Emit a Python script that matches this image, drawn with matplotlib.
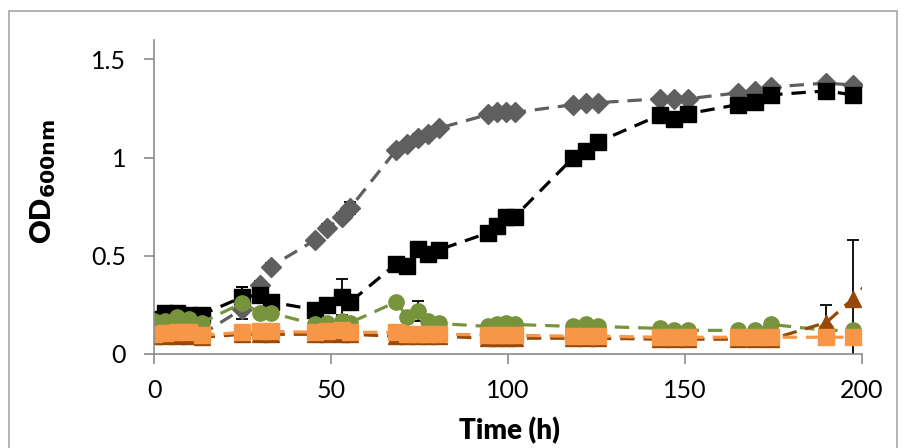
import numpy as np
import matplotlib
matplotlib.use('Agg')
import matplotlib.pyplot as plt
from matplotlib.patches import Rectangle

# sampling times (h)
time_h = [0, 3, 6.5, 10, 13.5, 25, 30, 33, 45.5, 49, 53, 55.5,
          68.5, 71.5, 74.5, 77.5, 80.5, 94.5, 97, 99.5, 102,
          118.5, 122, 125.5, 143, 147, 151, 165, 170, 174.5, 190, 197.5]

# OD600 per strain
od_gray = [0.12, 0.12, 0.12, 0.11, 0.10, 0.23, 0.35, 0.445, 0.58, 0.64, 0.70, 0.745,
           1.04, 1.07, 1.10, 1.12, 1.15, 1.22, 1.23, 1.23, 1.23,
           1.27, 1.28, 1.28, 1.30, 1.30, 1.30, 1.33, 1.34, 1.36, 1.38, 1.37]
err_gray = [0.01, 0.01, 0.01, 0.01, 0.01, 0.01, 0.02, 0.02, 0.01, 0.02, 0.02, 0.03,
            0.01, 0.01, 0.02, 0.01, 0.01, 0.01, 0.01, 0.01, 0.01,
            0.01, 0.01, 0.01, 0.01, 0.01, 0.01, 0.01, 0.01, 0.01, 0.01, 0.01]

od_black = [0.18, 0.21, 0.21, 0.20, 0.20, 0.29, 0.30, 0.265, 0.225, 0.25, 0.29, 0.265,
            0.46, 0.45, 0.535, 0.51, 0.53, 0.617, 0.65, 0.70, 0.70,
            1.00, 1.035, 1.08, 1.217, 1.197, 1.224, 1.27, 1.285, 1.32, 1.34, 1.32]
err_black = [0.01, 0.01, 0.01, 0.01, 0.01, 0.05, 0.01, 0.01, 0.01, 0.01, 0.09, 0.01,
             0.01, 0.01, 0.01, 0.01, 0.01, 0.01, 0.01, 0.01, 0.01,
             0.01, 0.01, 0.01, 0.01, 0.01, 0.01, 0.01, 0.01, 0.01, 0.01, 0.01]

od_green = [0.17, 0.17, 0.19, 0.18, 0.16, 0.26, 0.21, 0.21, 0.15, 0.16, 0.17, 0.16,
            0.265, 0.19, 0.22, 0.17, 0.155, 0.14, 0.15, 0.155, 0.15,
            0.14, 0.15, 0.14, 0.13, 0.12, 0.12, 0.12, 0.12, 0.15, 0.12, 0.12]
err_green = [0.01, 0.01, 0.01, 0.01, 0.01, 0.08, 0.01, 0.01, 0.01, 0.01, 0.01, 0.01,
             0.01, 0.01, 0.05, 0.01, 0.01, 0.01, 0.01, 0.01, 0.01,
             0.01, 0.01, 0.01, 0.01, 0.01, 0.01, 0.01, 0.01, 0.01, 0.01, 0.01]

time_brown = time_h + [205]
od_brown = [0.09, 0.09, 0.09, 0.09, 0.085, 0.10, 0.10, 0.10, 0.10, 0.10, 0.10, 0.10,
            0.09, 0.09, 0.09, 0.09, 0.09, 0.08, 0.08, 0.08, 0.08,
            0.08, 0.08, 0.08, 0.075, 0.075, 0.075, 0.075, 0.075, 0.075, 0.16, 0.28, 0.43]
err_brown = [0.01] * 30 + [0.09, 0.30, 0.0]

od_orange = [0.10, 0.105, 0.11, 0.11, 0.095, 0.11, 0.115, 0.115, 0.11, 0.115, 0.12, 0.11,
             0.11, 0.10, 0.10, 0.10, 0.10, 0.097, 0.097, 0.097, 0.095,
             0.09, 0.09, 0.09, 0.085, 0.085, 0.085, 0.085, 0.085, 0.085, 0.085, 0.085]

plt.rcParams['font.family'] = ['Lato', 'DejaVu Sans']

fig = plt.figure(figsize=(9.06, 4.48), dpi=100)
ax = fig.add_axes([0.170, 0.210, 0.781, 0.701])

dash = (0, (4.5, 2.8))
series = [
    (time_h, od_gray, err_gray, 'D', '#5f5f5f', 10),
    (time_h, od_black, err_black, 's', '#000000', 11),
    (time_h, od_green, err_green, 'o', '#77933c', 11),
    (time_brown, od_brown, err_brown, '^', '#984807', 11),
    (time_h, od_orange, [0.005] * len(od_orange), 's', '#f79646', 11),
]
for x, y, e, m, c, ms in series:
    ax.errorbar(x, y, yerr=e, fmt=m, color=c, ms=ms, ls=dash, lw=2.3,
                ecolor='black', elinewidth=1.3, capsize=4, capthick=1.3)

ax.set_xlim(0, 200)
ax.set_ylim(0, 1.6)
ax.set_xticks([0, 50, 100, 150, 200])
ax.set_yticks([0, 0.5, 1, 1.5])
ax.set_yticklabels(['0', '0.5', '1', '1.5'])

for s in ['top', 'right']:
    ax.spines[s].set_visible(False)
for s in ['left', 'bottom']:
    ax.spines[s].set_color('#8c8c8c')
    ax.spines[s].set_linewidth(1.2)
ax.tick_params(axis='both', colors='#8c8c8c', length=7, width=1.2, labelsize=18,
               labelcolor='black')
ax.tick_params(axis='y', pad=13)
ax.tick_params(axis='x', pad=11)

fig.text(43 / 906, 1 - 182 / 448, r'OD$_{\mathbf{600nm}}$', fontsize=21, fontweight='heavy',
         rotation=90, ha='center', va='center')
fig.text(509 / 906, 1 - 431 / 448, 'Time (h)', fontsize=20, fontweight='heavy',
         ha='center', va='center')

fig.patches.append(Rectangle((0.0099, -0.05), 0.980, 1.025, transform=fig.transFigure,
                             fill=False, edgecolor='#a6a6a6', lw=1.2))

fig.savefig('out.png', dpi=100)
